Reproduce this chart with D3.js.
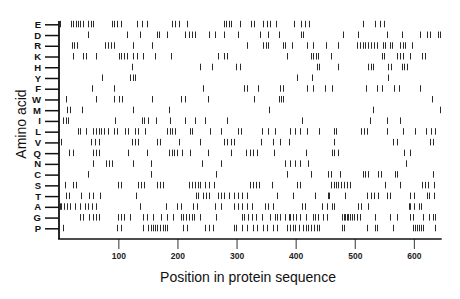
<!DOCTYPE html>
<html>
<head>
<meta charset="utf-8">
<script src="https://cdn.jsdelivr.net/npm/d3@7"></script>
<style>
  body { margin: 0; background: #fff; }
  svg { display: block; font-family: "Liberation Sans", Arial, sans-serif; }
</style>
</head>
<body>
<div id="chart"></div>
<script>
// amino acids, top row first
const aminoAcids = ["E", "D", "R", "K", "H", "Y", "F", "W", "M", "I", "L", "V", "Q", "N", "C", "S", "T", "A", "G", "P"]

// positions of each residue in the sequence
const posE = [1, 20, 23, 28, 32, 36, 40, 48, 54, 58, 89, 93, 97, 104, 131, 140, 148, 190, 196, 202, 217, 278, 282, 287, 291, 305, 325, 329, 345, 351, 357, 366, 397, 409, 416, 423, 514, 534, 542, 549]
const posD = [48, 114, 136, 165, 169, 182, 213, 220, 225, 230, 254, 264, 279, 303, 339, 354, 371, 409, 413, 480, 506, 555, 580, 611, 622, 628, 640, 644]
const posR = [21, 25, 30, 78, 83, 88, 92, 125, 157, 317, 345, 350, 354, 378, 382, 393, 419, 430, 451, 472, 504, 509, 514, 518, 522, 527, 533, 538, 547, 551, 559, 563, 577, 581, 585, 596]
const posK = [23, 41, 45, 63, 101, 105, 110, 114, 125, 132, 141, 162, 189, 269, 279, 283, 385, 426, 430, 434, 438, 459, 546, 550, 571, 577, 582, 594, 613, 618]
const posH = [123, 238, 258, 299, 305, 436, 440, 471, 523, 527, 531, 557, 561, 580, 583, 588]
const posY = [72, 120, 124, 129, 402, 427, 557]
const posF = [56, 93, 243, 312, 317, 336, 374, 379, 419, 430, 450, 461, 519, 538, 546, 567, 574, 611]
const posW = [12, 63, 93, 101, 106, 157, 206, 213, 252, 330, 371, 375, 379, 630]
const posM = [14, 19, 38, 124, 185, 355, 530, 644]
const posI = [7, 11, 15, 94, 140, 144, 151, 164, 187, 213, 230, 246, 284, 410, 525, 554, 577]
const posL = [31, 35, 45, 58, 62, 67, 71, 76, 83, 92, 98, 111, 117, 128, 134, 145, 183, 187, 191, 196, 221, 225, 255, 273, 303, 307, 343, 354, 365, 390, 399, 408, 419, 440, 464, 468, 510, 516, 520, 555, 581, 602, 621, 629, 636]
const posV = [3, 53, 61, 68, 123, 128, 134, 165, 170, 203, 238, 279, 284, 290, 296, 342, 361, 374, 388, 464, 564, 571, 627, 633]
const posQ = [17, 23, 57, 62, 68, 117, 148, 186, 190, 194, 199, 208, 222, 252, 290, 316, 322, 328, 335, 364, 417, 461, 465, 472, 584, 593]
const posN = [57, 80, 85, 89, 125, 156, 241, 273, 382, 390, 399, 408, 421, 587]
const posC = [48, 155, 265, 386, 426, 455, 459, 475, 514, 518, 522, 540, 544, 568, 571, 632]
const posS = [9, 24, 28, 100, 104, 134, 138, 143, 165, 171, 175, 220, 225, 229, 234, 238, 246, 254, 262, 322, 328, 333, 338, 360, 402, 408, 459, 464, 468, 472, 476, 482, 487, 492, 551, 577, 613, 619, 623, 634]
const posT = [12, 17, 37, 51, 58, 69, 130, 231, 235, 244, 248, 253, 269, 274, 278, 288, 295, 302, 309, 317, 368, 395, 433, 454, 457, 484, 520, 527, 533, 540, 554, 560, 594, 600, 622, 626, 634]
const posA = [1, 3, 8, 14, 19, 27, 35, 44, 48, 55, 63, 137, 180, 200, 206, 227, 233, 264, 273, 295, 303, 310, 318, 326, 348, 354, 362, 410, 416, 444, 453, 461, 465, 505, 510, 522, 591, 594, 600, 608, 612]
const posG = [35, 40, 51, 57, 62, 68, 100, 104, 110, 119, 142, 148, 159, 173, 182, 193, 206, 210, 215, 219, 224, 228, 238, 266, 309, 313, 320, 326, 333, 343, 357, 365, 369, 374, 382, 388, 390, 396, 401, 408, 418, 429, 433, 438, 447, 453, 478, 481, 484, 486, 489, 492, 495, 499, 503, 509, 534, 560, 571, 594, 599, 616, 626, 632, 636]
const posP = [6, 97, 104, 141, 151, 155, 158, 162, 166, 171, 175, 179, 183, 210, 217, 247, 254, 260, 295, 299, 310, 317, 328, 335, 345, 351, 362, 368, 385, 390, 395, 399, 405, 413, 418, 421, 426, 431, 436, 440, 478, 482, 520, 534, 538, 565, 599, 602, 605, 608, 612, 616, 636]

const positions = [posE, posD, posR, posK, posH, posY, posF, posW, posM, posI, posL, posV, posQ, posN, posC, posS, posT, posA, posG, posP]
const xTicks = [100, 200, 300, 400, 500, 600]
const seqLength = 647

const width = 460
const height = 299

// flatten into one list of marks
const marks = []
aminoAcids.forEach((aa, i) => {
    positions[i].forEach(p => marks.push({ aa: aa, pos: p }))
})

const xScale = d3.scaleLinear()
    .domain([0, seqLength])
    .range([59.2, 441.7])

const yScale = d3.scalePoint()
    .domain(aminoAcids)
    .range([24.3, 228.3])

const svg = d3.select("#chart")
    .append("svg")
    .attr("width", width)
    .attr("height", height)

svg.append("rect")
    .attr("width", width)
    .attr("height", height)
    .attr("fill", "#fff")

// the residue marks
svg.append("g")
    .selectAll("line")
    .data(marks)
    .join("line")
    .attr("x1", d => Math.round(xScale(d.pos)) + 0.5)
    .attr("x2", d => Math.round(xScale(d.pos)) + 0.5)
    .attr("y1", d => yScale(d.aa) - 3.5)
    .attr("y2", d => yScale(d.aa) + 3)
    .attr("stroke", "#2a2a2a")
    .attr("stroke-width", 1)

// left axis
const yAxis = d3.axisLeft(yScale).tickSize(14).tickPadding(4)
const yG = svg.append("g")
    .attr("transform", "translate(59,0)")
    .call(yAxis)
yG.select(".domain").remove()
yG.selectAll(".tick line").attr("stroke", "#111").attr("stroke-width", 1.5)
yG.selectAll(".tick text")
    .attr("font-size", "9.5px")
    .attr("font-weight", "bold")
    .attr("fill", "#111")
    .attr("font-family", "Liberation Sans, Arial, sans-serif")

svg.append("line")
    .attr("x1", 59).attr("x2", 59)
    .attr("y1", 21).attr("y2", 239)
    .attr("stroke", "#111").attr("stroke-width", 1.8)

// bottom axis
const xAxis = d3.axisBottom(xScale).tickValues(xTicks).tickSize(10).tickPadding(4)
const xG = svg.append("g")
    .attr("transform", "translate(0,239)")
    .call(xAxis)
xG.select(".domain").remove()
xG.selectAll(".tick line").attr("stroke", "#555").attr("stroke-width", 1.2)
xG.selectAll(".tick text")
    .attr("font-size", "8.5px")
    .attr("font-weight", "bold")
    .attr("fill", "#222")
    .attr("font-family", "Liberation Sans, Arial, sans-serif")

svg.append("line")
    .attr("x1", 58.1).attr("x2", 441.7)
    .attr("y1", 239).attr("y2", 239)
    .attr("stroke", "#111").attr("stroke-width", 1.6)

// axis titles
svg.append("text")
    .text("Position in protein sequence")
    .attr("x", 248)
    .attr("y", 282)
    .attr("text-anchor", "middle")
    .attr("font-size", "14px")
    .attr("fill", "#111")

svg.append("text")
    .text("Amino acid")
    .attr("transform", "translate(26,124) rotate(-90)")
    .attr("text-anchor", "middle")
    .attr("font-size", "14px")
    .attr("fill", "#111")
</script>
</body>
</html>
